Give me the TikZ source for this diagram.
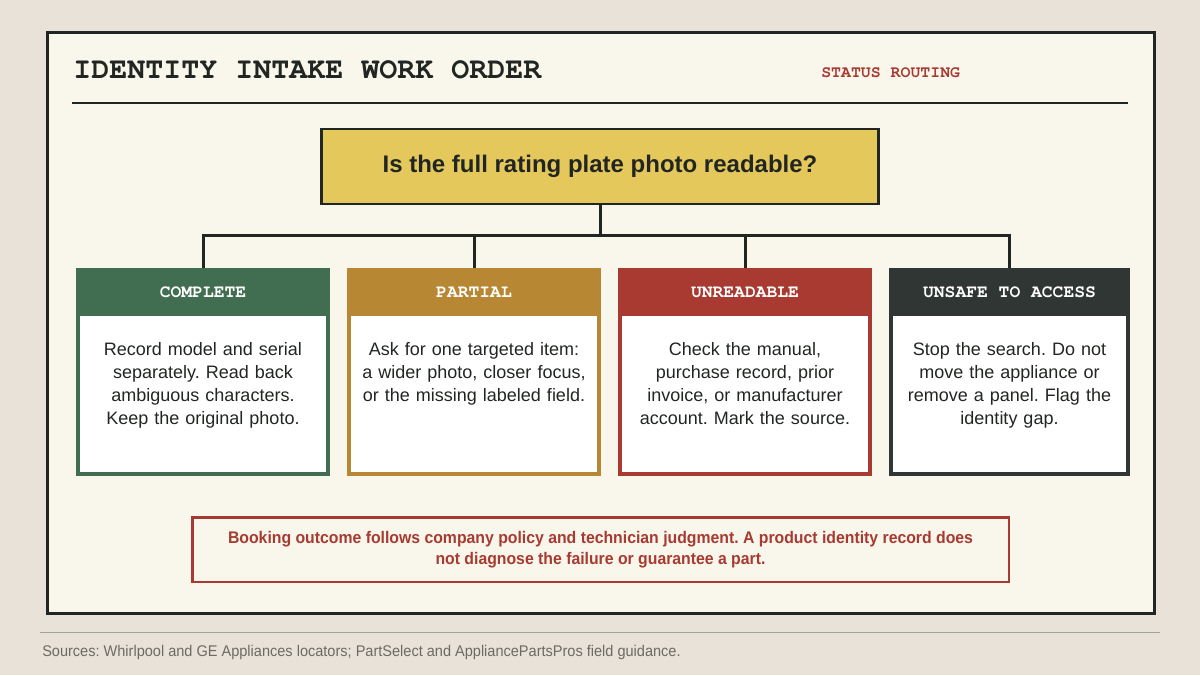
\documentclass[tikz,border=0pt]{standalone}
\usepackage{fontspec}
\setmainfont{Liberation Sans}
\setmonofont{TeX Gyre Cursor}
\newfontfamily\narrowfont[FakeStretch=0.94]{Liberation Sans}
\usepackage{tikz}
\usetikzlibrary{positioning}
\frenchspacing

\definecolor{pagebg}{HTML}{E8E2D8}
\definecolor{sheet}{HTML}{F9F7EC}
\definecolor{ink}{HTML}{222622}
\definecolor{plate}{HTML}{E5C85C}
\definecolor{okgreen}{HTML}{416E51}
\definecolor{ochre}{HTML}{B88733}
\definecolor{alertred}{HTML}{A83A31}
\definecolor{slate}{HTML}{303633}
\definecolor{srcgray}{HTML}{6B6B63}
\definecolor{rulegray}{HTML}{A3A39C}

\tikzset{
  head/.style={
    minimum width=190.5pt,
    minimum height=36pt,
    inner sep=0pt,
    outer sep=0pt,
    text=white,
    font=\ttfamily\bfseries\fontsize{13.5pt}{16pt}\selectfont
  },
  body/.style={
    draw,
    line width=3pt,
    fill=white,
    minimum width=187.5pt,
    minimum height=120pt,
    inner sep=0pt,
    outer sep=0pt
  },
  bodytext/.style={
    text width=172.5pt,
    align=center,
    inner sep=0pt,
    text=ink,
    font=\fontsize{13.5pt}{17.25pt}\selectfont
  },
  link/.style={ink, line width=2.25pt}
}

\begin{document}
\begin{tikzpicture}[x=0.75pt,y=-0.75pt]

% Page and sheet
\fill[pagebg] (0,0) rectangle (1200,675);
\draw[ink, line width=2.25pt, fill=sheet] (47.5,32.5) rectangle (1154,613);

% Header
\node [anchor=base west,
	inner sep=0pt,
	text=ink,
	font=\ttfamily\bfseries\fontsize{22.5pt}{26pt}\selectfont
] (title) at (73,78) {IDENTITY INTAKE WORK ORDER};
\node [anchor=base west,
	inner sep=0pt,
	text=alertred,
	font=\ttfamily\bfseries\fontsize{12.4pt}{15pt}\selectfont
] (status) at (821,77) {STATUS ROUTING};
\draw[ink, line width=1.5pt] (72,103) -- (1128,103);

% Question
\node [draw=ink,
	line width=1.9pt,
	fill=plate,
	minimum width=418pt,
	minimum height=56pt,
	text=ink,
	font=\bfseries\fontsize{18pt}{22pt}\selectfont
] (question) at (600,166.5) {Is the full rating plate photo readable?};

% Complete
\node [head, fill=okgreen] (complete) at (203,292) {COMPLETE};
\node [body, draw=okgreen, below = -1.5pt of complete] (complete_body) {};
\node [bodytext, below = 19.5pt of complete] (complete_text) {
Record model and serial\\separately. Read back\\ambiguous characters.\\Keep the original photo.
};

% Partial
\node [head, fill=ochre, right = 12.75pt of complete] (partial) {PARTIAL};
\node [body, draw=ochre, below = -1.5pt of partial] (partial_body) {};
\node [bodytext, below = 19.5pt of partial] (partial_text) {
Ask for one targeted item:\\a wider photo, closer focus,\\or the missing labeled field.
};

% Unreadable
\node [head, fill=alertred, right = 12.75pt of partial] (unreadable) {UNREADABLE};
\node [body, draw=alertred, below = -1.5pt of unreadable] (unreadable_body) {};
\node [bodytext, below = 19.5pt of unreadable] (unreadable_text) {
Check the manual,\\purchase record, prior\\invoice, or manufacturer\\account. Mark the source.
};

% Unsafe to access
\node [head, fill=slate, minimum width=180.75pt, right = 12.75pt of unreadable] (unsafe) {UNSAFE TO ACCESS};
\node [body, draw=slate, minimum width=177.75pt, below = -1.5pt of unsafe] (unsafe_body) {};
\node [bodytext, below = 19.5pt of unsafe] (unsafe_text) {
Stop the search. Do not\\move the appliance or\\remove a panel. Flag the\\identity gap.
};

% Connectors
\coordinate (split) at ([yshift=-22.5pt] question.south);
\draw[link] (question.south) -- (split);
\draw[link] (split) -| (complete.north);
\draw[link] (split) -| (partial.north);
\draw[link] (split) -| (unreadable.north);
\draw[link] (split) -| (unsafe.north);

% Note
\node [draw=alertred,
	line width=1.9pt,
	minimum width=612.4pt,
	minimum height=48.4pt,
	align=center,
	text=alertred,
	font=\narrowfont\bfseries\fontsize{12.6pt}{15.75pt}\selectfont
] (note) at (600.5,549.5) {Booking outcome follows company policy and technician judgment. A product identity record does\\not diagnose the failure or guarantee a part.};

% Sources
\draw[rulegray, line width=0.75pt] (40,632) -- (1160,632);
\node [anchor=base west,
	inner sep=0pt,
	text=srcgray,
	font=\narrowfont\fontsize{11.6pt}{14pt}\selectfont
] (sources) at (42,656) {Sources: Whirlpool and GE Appliances locators; PartSelect and AppliancePartsPros field guidance.};

\end{tikzpicture}
\end{document}
